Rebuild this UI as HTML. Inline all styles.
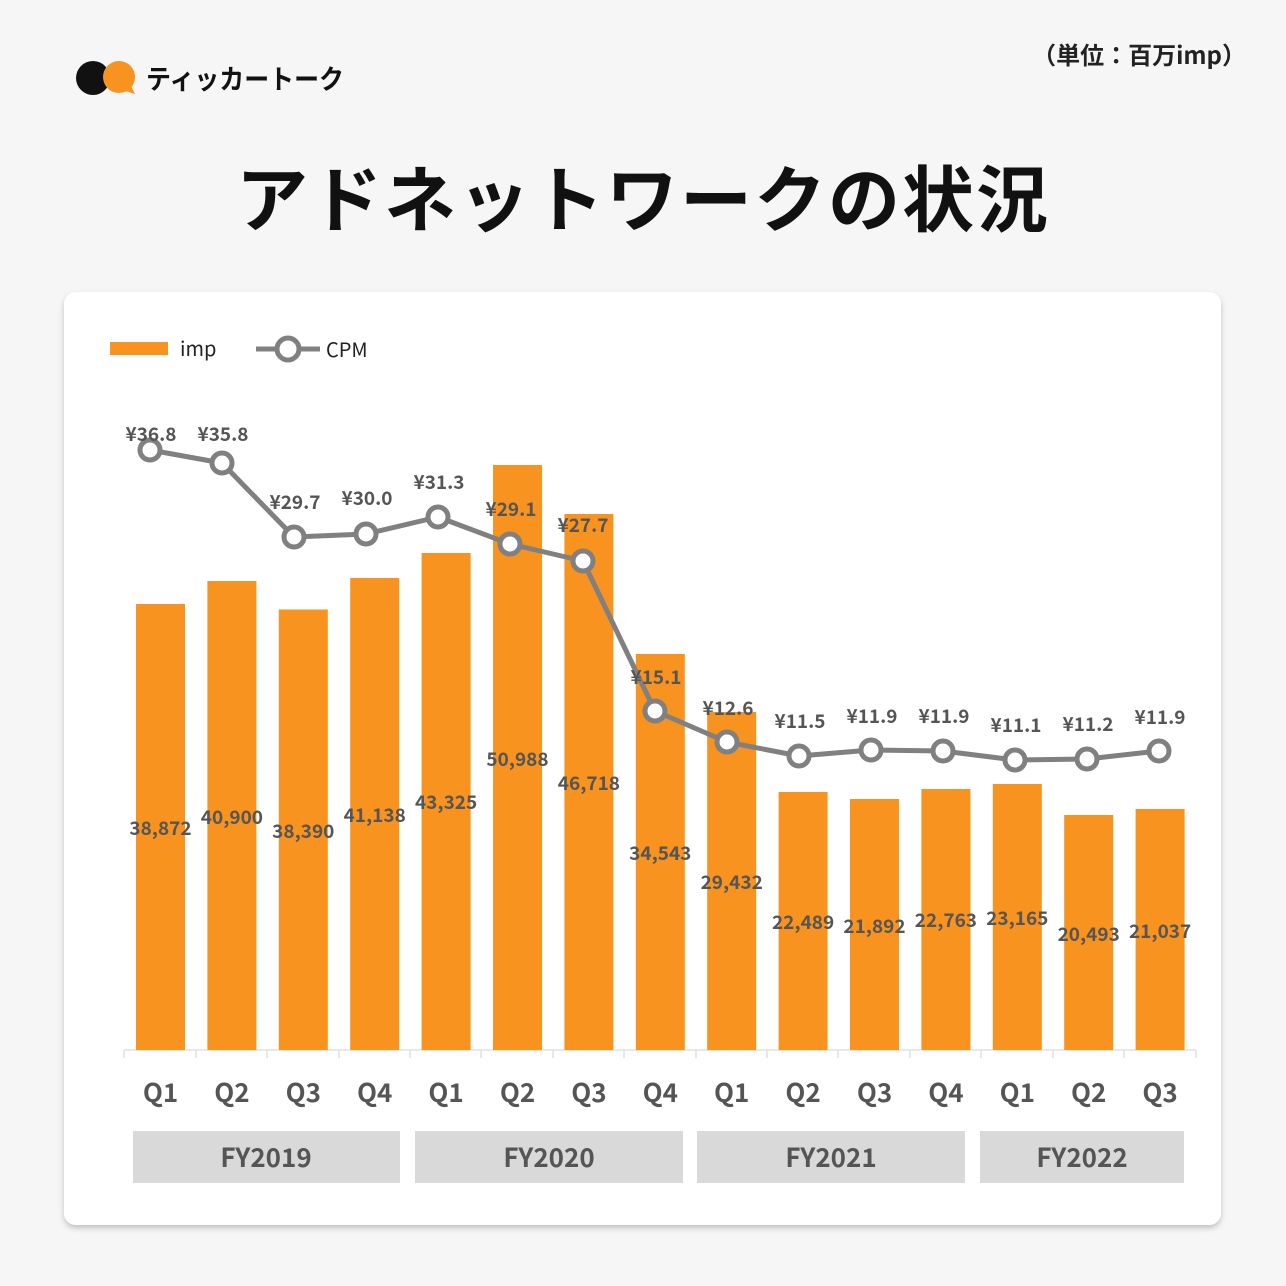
<!DOCTYPE html>
<html><head><meta charset="utf-8"><style>
html,body{margin:0;padding:0;background:#f6f6f6;}
svg{display:block;}
</style></head><body>
<svg width="1286" height="1286" viewBox="0 0 1286 1286" xmlns="http://www.w3.org/2000/svg">
<defs><filter id="sh" x="-5%" y="-5%" width="110%" height="110%"><feDropShadow dx="0" dy="3" stdDeviation="3" flood-color="#000" flood-opacity="0.22"/></filter></defs>
<rect width="1286" height="1286" fill="#f6f6f6"/>
<!-- logo -->
<circle cx="93" cy="78" r="17" fill="#111"/>
<circle cx="119" cy="77" r="16" fill="#f7931e"/>
<path d="M122 90 L135 94 L130 84 Z" fill="#f7931e"/>
<text x="146" y="89" font-size="27" font-weight="bold" fill="#111" font-family="'Noto Sans CJK JP',sans-serif" textLength="198" lengthAdjust="spacingAndGlyphs">ティッカートーク</text>
<text x="1246" y="64" font-size="24" font-weight="bold" fill="#222" text-anchor="end" font-family="'Noto Sans CJK JP',sans-serif">（単位：百万imp）</text>
<text x="643" y="226" font-size="72" font-weight="bold" fill="#111" text-anchor="middle" font-family="'Noto Sans CJK JP',sans-serif" letter-spacing="2">アドネットワークの状況</text>
<!-- card -->
<rect x="64" y="292" width="1157" height="933" rx="12" fill="#fff" filter="url(#sh)"/>
<!-- legend -->
<rect x="110" y="342" width="58" height="13" fill="#f7931e"/>
<text x="180" y="356" font-size="20" fill="#222" font-family="'Noto Sans CJK JP',sans-serif">imp</text>
<line x1="256" y1="349" x2="320" y2="349" stroke="#808080" stroke-width="5"/>
<circle cx="288" cy="349" r="11" fill="#fff" stroke="#808080" stroke-width="5"/>
<text x="326" y="357" font-size="20" fill="#222" font-family="'Noto Sans CJK JP',sans-serif">CPM</text>
<!-- axis -->
<line x1="124" y1="1050" x2="1196" y2="1050" stroke="#e0e0e0" stroke-width="1.5"/>
<g stroke="#e0e0e0" stroke-width="1.5">
<line x1="124" y1="1050" x2="124" y2="1058"/><line x1="196" y1="1050" x2="196" y2="1058"/><line x1="267" y1="1050" x2="267" y2="1058"/><line x1="339" y1="1050" x2="339" y2="1058"/><line x1="410" y1="1050" x2="410" y2="1058"/><line x1="481" y1="1050" x2="481" y2="1058"/><line x1="553" y1="1050" x2="553" y2="1058"/><line x1="624" y1="1050" x2="624" y2="1058"/><line x1="696" y1="1050" x2="696" y2="1058"/><line x1="767" y1="1050" x2="767" y2="1058"/><line x1="838" y1="1050" x2="838" y2="1058"/><line x1="910" y1="1050" x2="910" y2="1058"/><line x1="981" y1="1050" x2="981" y2="1058"/><line x1="1053" y1="1050" x2="1053" y2="1058"/><line x1="1124" y1="1050" x2="1124" y2="1058"/><line x1="1196" y1="1050" x2="1196" y2="1058"/>
</g>
<!-- bars -->
<g fill="#f7931e">
<rect x="136" y="604" width="49" height="446"/>
<rect x="207.4" y="581" width="49" height="469"/>
<rect x="278.8" y="609.5" width="49" height="440.5"/>
<rect x="350.2" y="578" width="49" height="472"/>
<rect x="421.6" y="553" width="49" height="497"/>
<rect x="493" y="465" width="49" height="585"/>
<rect x="564.4" y="514" width="49" height="536"/>
<rect x="635.8" y="654" width="49" height="396"/>
<rect x="707.2" y="712" width="49" height="338"/>
<rect x="778.6" y="792" width="49" height="258"/>
<rect x="850" y="799" width="49" height="251"/>
<rect x="921.4" y="789" width="49" height="261"/>
<rect x="992.8" y="784" width="49" height="266"/>
<rect x="1064.2" y="815" width="49" height="235"/>
<rect x="1135.6" y="809" width="49" height="241"/>
</g>
<!-- bar value labels -->
<g font-size="19" font-weight="bold" fill="#555" text-anchor="middle" font-family="'Noto Sans CJK JP',sans-serif">
<text x="160.5" y="835">38,872</text>
<text x="231.9" y="824">40,900</text>
<text x="303.3" y="838">38,390</text>
<text x="374.7" y="822">41,138</text>
<text x="446.1" y="809">43,325</text>
<text x="517.5" y="766">50,988</text>
<text x="588.9" y="790">46,718</text>
<text x="660.3" y="860">34,543</text>
<text x="731.7" y="889">29,432</text>
<text x="803.1" y="929">22,489</text>
<text x="874.5" y="933">21,892</text>
<text x="945.9" y="927">22,763</text>
<text x="1017.3" y="925">23,165</text>
<text x="1088.7" y="941">20,493</text>
<text x="1160.1" y="938">21,037</text>
</g>
<!-- CPM line -->
<polyline fill="none" stroke="#808080" stroke-width="5" stroke-linejoin="round" points="150,450 222,463 294,537 366,534 438,517 510,544 583,561 655,711 727,742 799,756 871,750 943,751 1015,760 1087,759 1159,751"/>
<g fill="#fff" stroke="#808080" stroke-width="5">
<circle cx="150" cy="450" r="10"/><circle cx="222" cy="463" r="10"/><circle cx="294" cy="537" r="10"/><circle cx="366" cy="534" r="10"/><circle cx="438" cy="517" r="10"/><circle cx="510" cy="544" r="10"/><circle cx="583" cy="561" r="10"/><circle cx="655" cy="711" r="10"/><circle cx="727" cy="742" r="10"/><circle cx="799" cy="756" r="10"/><circle cx="871" cy="750" r="10"/><circle cx="943" cy="751" r="10"/><circle cx="1015" cy="760" r="10"/><circle cx="1087" cy="759" r="10"/><circle cx="1159" cy="751" r="10"/>
</g>
<g font-size="19" font-weight="bold" fill="#555" text-anchor="middle" font-family="'Noto Sans CJK JP',sans-serif">
<text x="151" y="441">¥36.8</text>
<text x="223" y="441">¥35.8</text>
<text x="295" y="509">¥29.7</text>
<text x="367" y="505">¥30.0</text>
<text x="439" y="489">¥31.3</text>
<text x="511" y="516">¥29.1</text>
<text x="583" y="532">¥27.7</text>
<text x="656" y="684">¥15.1</text>
<text x="728" y="715">¥12.6</text>
<text x="800" y="728">¥11.5</text>
<text x="872" y="723">¥11.9</text>
<text x="944" y="723">¥11.9</text>
<text x="1016" y="732">¥11.1</text>
<text x="1088" y="731">¥11.2</text>
<text x="1160" y="724">¥11.9</text>
</g>
<!-- Q labels -->
<g font-size="26" font-weight="bold" fill="#555" text-anchor="middle" font-family="'Noto Sans CJK JP',sans-serif">
<text x="160.5" y="1102">Q1</text><text x="231.9" y="1102">Q2</text><text x="303.3" y="1102">Q3</text><text x="374.7" y="1102">Q4</text>
<text x="446.1" y="1102">Q1</text><text x="517.5" y="1102">Q2</text><text x="588.9" y="1102">Q3</text><text x="660.3" y="1102">Q4</text>
<text x="731.7" y="1102">Q1</text><text x="803.1" y="1102">Q2</text><text x="874.5" y="1102">Q3</text><text x="945.9" y="1102">Q4</text>
<text x="1017.3" y="1102">Q1</text><text x="1088.7" y="1102">Q2</text><text x="1160.1" y="1102">Q3</text>
</g>
<!-- FY boxes -->
<g fill="#d9d9d9">
<rect x="133" y="1131" width="267" height="52"/>
<rect x="415" y="1131" width="268" height="52"/>
<rect x="697" y="1131" width="268" height="52"/>
<rect x="980" y="1131" width="204" height="52"/>
</g>
<g font-size="26" font-weight="bold" fill="#555" text-anchor="middle" font-family="'Noto Sans CJK JP',sans-serif">
<text x="266" y="1167">FY2019</text>
<text x="549" y="1167">FY2020</text>
<text x="831" y="1167">FY2021</text>
<text x="1082" y="1167">FY2022</text>
</g>
</svg>
</body></html>
